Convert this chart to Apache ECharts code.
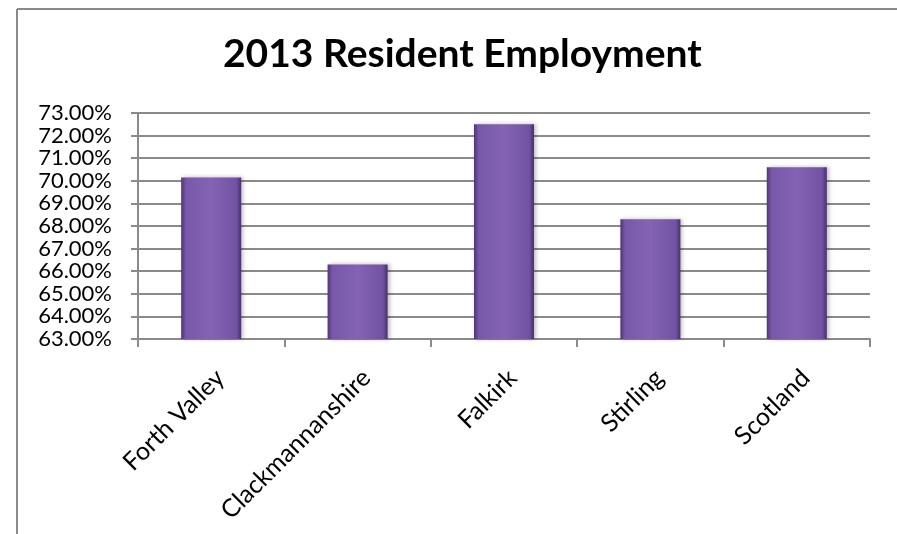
<!DOCTYPE html>
<html>
<head>
<meta charset="utf-8">
<script src="https://cdn.jsdelivr.net/npm/echarts@6/dist/echarts.min.js"></script>
<style>html,body{margin:0;padding:0;background:#fff;overflow:hidden;}#c{width:897px;height:534px;}</style>
</head>
<body>
<div id="c"></div>
<script>
var titleText = '2013 Resident Employment';
var categories = ['Forth Valley', 'Clackmannanshire', 'Falkirk', 'Stirling', 'Scotland'];
var values = [70.15, 66.3, 72.5, 68.3, 70.6];
var yMin = 63, yMax = 73, yStep = 1;

var chart = echarts.init(document.getElementById('c'));
var font = 'Lato, "Open Sans", sans-serif';
chart.setOption({
  animation: false,
  backgroundColor: '#fff',
  title: {
    text: titleText,
    left: 218,
    top: 30,
    textStyle: { fontFamily: font, fontSize: 39, fontWeight: 'bold', color: '#000' }
  },
  graphic: [
    { type: 'line', shape: { x1: 17, y1: 534, x2: 17, y2: 9 }, style: { stroke: '#8a8a8a', lineWidth: 2 }, silent: true },
    { type: 'line', shape: { x1: 17, y1: 9, x2: 897, y2: 9 }, style: { stroke: '#8a8a8a', lineWidth: 2 }, silent: true }
  ],
  grid: { left: 138, right: 27, top: 113, bottom: 195, containLabel: false },
  xAxis: {
    type: 'category',
    data: categories,
    axisLine: { lineStyle: { color: '#8a8a8a', width: 2 } },
    axisTick: { show: true, length: 8, alignWithLabel: false, lineStyle: { color: '#8a8a8a', width: 2 } },
    axisLabel: { rotate: 45, margin: 26, verticalAlign: 'top', color: '#000', fontFamily: font, fontSize: 25, interval: 0 }
  },
  yAxis: {
    type: 'value',
    min: yMin, max: yMax, interval: yStep,
    axisLine: { show: true, lineStyle: { color: '#8a8a8a', width: 2 } },
    axisTick: { show: true, length: 7, lineStyle: { color: '#8a8a8a', width: 2 } },
    splitLine: { lineStyle: { color: '#8a8a8a', width: 2 } },
    axisLabel: {
      color: '#000', fontFamily: font, fontSize: 22, margin: 26,
      formatter: function (v) { return v.toFixed(2) + '%'; }
    }
  },
  series: [{
    type: 'bar',
    data: values,
    barWidth: '41%',
    itemStyle: {
      color: new echarts.graphic.LinearGradient(0, 0, 1, 0, [
        { offset: 0, color: '#4f3476' },
        { offset: 0.08, color: '#7858a8' },
        { offset: 0.5, color: '#8463b4' },
        { offset: 0.92, color: '#7252a2' },
        { offset: 1, color: '#48306c' }
      ]),
      shadowColor: 'rgba(0,0,0,0.25)',
      shadowBlur: 4,
      shadowOffsetX: 2
    }
  }]
});
</script>
</body>
</html>
